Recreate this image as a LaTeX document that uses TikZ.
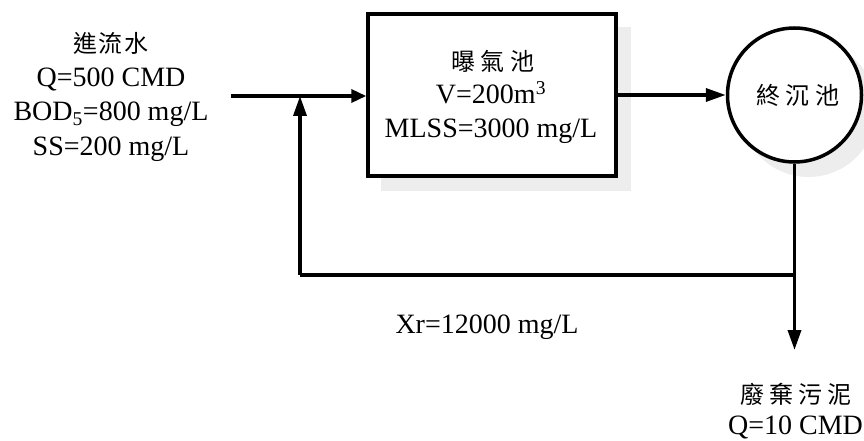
\documentclass[tikz,border=0pt]{standalone}
\usepackage{fontspec}
\setmainfont{Liberation Serif}
\newfontfamily\cjk[LetterSpace=5]{Noto Sans CJK TC}
\newfontfamily\cjkw[LetterSpace=22]{Noto Sans CJK TC}
\usetikzlibrary{arrows.meta}
\begin{document}
\begin{tikzpicture}[x=1pt,y=-1pt,
  flow/.style={line width=3.5pt},
  arr/.style={flow,-{Triangle[length=20pt,width=13pt]}},
  txt/.style={anchor=base,inner sep=0pt,font=\fontsize{28}{30}\selectfont},
  ctxt/.style={anchor=base,inner sep=0pt,font=\fontsize{24}{26}\selectfont\cjk},
  cwtxt/.style={anchor=base,inner sep=0pt,font=\fontsize{24}{26}\selectfont\cjkw},
  shadowfill/.style={fill=black!7,draw=none}]
\useasboundingbox (0,0) rectangle (864,441);
% shadows
\fill[shadowfill] (381,27) rectangle (631,191);
\fill[shadowfill] (808.5,109) circle (68);
% main shapes
\node[draw,flow,fill=white,minimum width=248pt,minimum height=162pt,inner sep=0pt] (box) at (492,95) {};
\node[draw,flow,fill=white,circle,minimum size=134pt,inner sep=0pt] (clar) at (794.5,95) {};
% texts
\node[ctxt] (inT) at (111,53) {進流水};
\node[txt] (inQ) at (111,87) {Q=500 CMD};
\node[txt] (inB) at (111,121) {BOD\textsubscript{5}=800 mg/L};
\node[txt] (inS) at (111,155) {SS=200 mg/L};
\node[cwtxt] (bxT) at (493,71) {曝氣池};
\node[txt] (bxV) at (491,104) {V=200m\textsuperscript{3}};
\node[txt] (bxM) at (491,138) {MLSS=3000 mg/L};
\node[cwtxt] (clT) at (798,105) {終沉池};
\node[txt] (xr) at (487,333) {Xr=12000 mg/L};
\node[cwtxt] (wT) at (796,403) {廢棄污泥};
\node[txt] (wQ) at (795.5,434) {Q=10 CMD};
% connectors
\coordinate (in) at (231,96);
\coordinate (j) at (300,96);
\coordinate (fb) at (300,275);
\coordinate (fr) at (clar.south |- fb);
\coordinate (waste) at (clar.south |- 0,350);
\draw[arr,-{Triangle[length=15pt,width=13pt]}] (in) -- (in -| box.west);
\draw[arr] (fb) -- (j);
\draw[flow] (fb) -- (fr);
\draw[arr] (clar.south) -- (waste);
\draw[arr] (box.east |- 0,95) -- (clar.west);
\end{tikzpicture}
\end{document}
